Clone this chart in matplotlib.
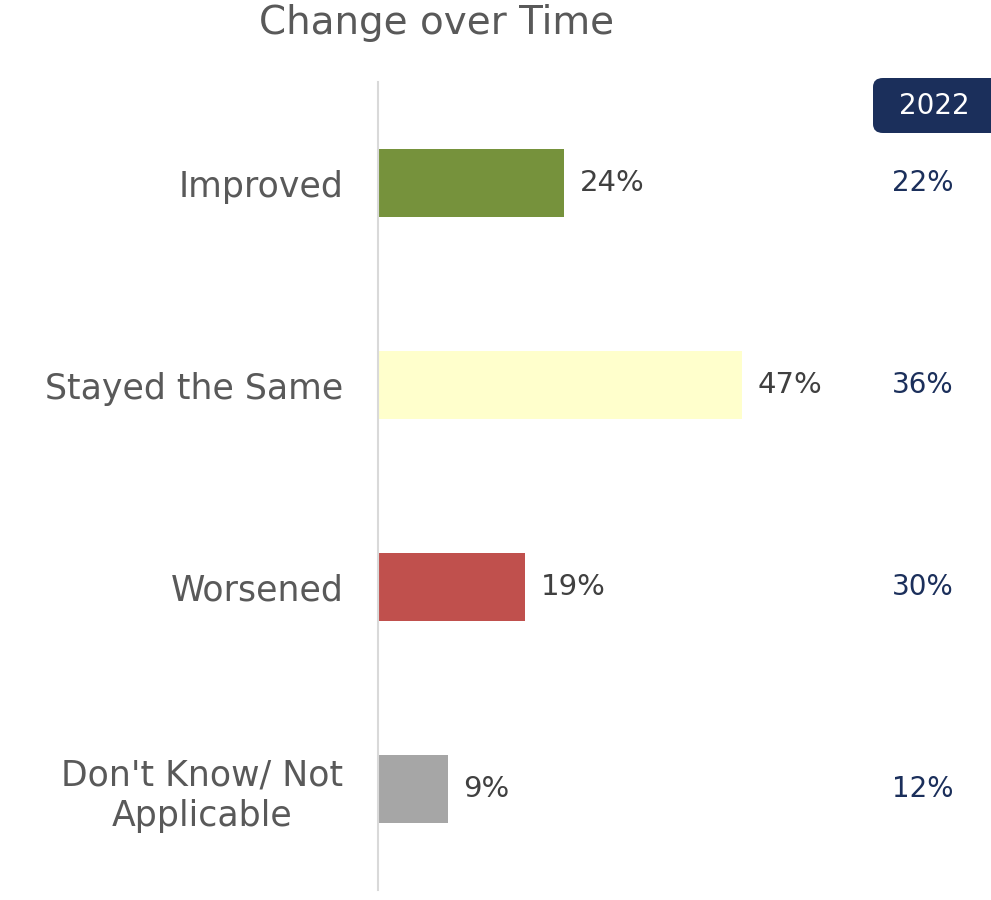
import matplotlib
matplotlib.use("Agg")
import matplotlib.pyplot as plt
from matplotlib.patches import FancyBboxPatch
from matplotlib.transforms import blended_transform_factory

categories = ["Improved", "Stayed the Same", "Worsened", "Don't Know/ Not\nApplicable"]
values_current = [24, 47, 19, 9]
values_2022 = [22, 36, 30, 12]
bar_colors = ["#76923c", "#ffffcc", "#c0504d", "#a6a6a6"]
compare_label = "2022"
title = "Change over Time"

plt.rcParams['font.family'] = ['DejaVu Sans']

W, H = 991, 900
fig = plt.figure(figsize=(W / 100, H / 100), dpi=100)
ax_left, ax_right = 378 / W, 1.0
ax_top, ax_bottom = 1 - 82 / H, 1 - 890 / H
ax = fig.add_axes([ax_left, ax_bottom, ax_right - ax_left, ax_top - ax_bottom])

ypos = list(range(len(categories)))
ax.barh(ypos, values_current, height=0.336, color=bar_colors, zorder=2)
ax.set_xlim(0, 613 / 7.75)
ax.set_ylim(3.5, -0.5)

for s in ["top", "right", "bottom"]:
    ax.spines[s].set_visible(False)
ax.spines["left"].set_color("#d9d9d9")
ax.spines["left"].set_linewidth(1.5)
ax.set_xticks([])
ax.set_yticks(ypos)
ax.set_yticklabels(categories, fontsize=25, color="#595959", linespacing=1.25)
for lab in ax.get_yticklabels():
    lab.set_horizontalalignment("right")
    lab.set_multialignment("center")
ax.tick_params(axis="y", length=0, pad=25)

for y, v in zip(ypos, values_current):
    ax.text(v + 2.0, y, f"{v}%", va="center", ha="left", fontsize=21, color="#404040")

tr = blended_transform_factory(ax.transAxes, ax.transData)
for y, v in zip(ypos, values_2022):
    ax.text(0.8385, y, f"{v}%", va="center", ha="left", fontsize=20,
            color="#1b2f5b", transform=tr)

# badge
bx0, by0, bx1, by1 = 873 / W, 1 - 133 / H, 1.02, 1 - 78 / H
badge = FancyBboxPatch((bx0, by0), bx1 - bx0, by1 - by0,
                       boxstyle="round,pad=0,rounding_size=0.01",
                       transform=fig.transFigure, facecolor="#1b2f5b",
                       edgecolor="none", clip_on=False)
fig.patches.append(badge)
fig.text(934 / W, 1 - 106 / H, compare_label, ha="center", va="center",
         fontsize=20, color="white")

fig.text(437 / W, 1 - 23 / H, title, ha="center", va="center", fontsize=28,
         color="#595959")

fig.savefig("out.png", dpi=100)
